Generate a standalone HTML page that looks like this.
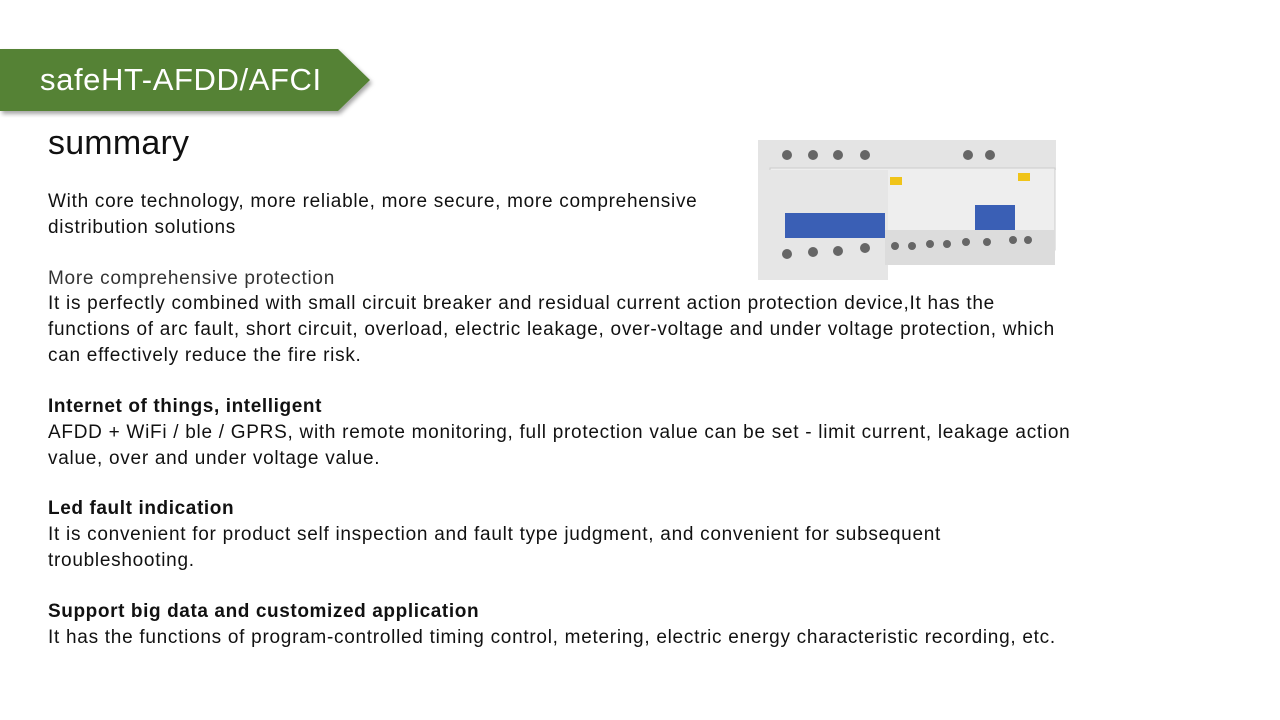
<!DOCTYPE html>
<html><head><style>
body{margin:0;width:1280px;height:720px;background:#fff;position:relative;overflow:hidden;font-family:"Liberation Sans",sans-serif;color:#111}
.t{position:absolute;left:48px;font-size:19px;line-height:26px;white-space:nowrap;letter-spacing:0.72px}
b{font-weight:bold;letter-spacing:0.6px}
</style></head><body>
<svg style="position:absolute;left:0;top:0" width="400" height="130">
<defs><filter id="s"><feDropShadow dx="2" dy="3" stdDeviation="2" flood-opacity="0.35"/></filter></defs>
<polygon points="0,49 338,49 370,80 338,111 0,111" fill="#548235" filter="url(#s)"/>
<text x="40" y="90" fill="#fff" font-size="31" letter-spacing="0.6" font-family="Liberation Sans,sans-serif">safeHT-AFDD/AFCI</text>
</svg>
<div class="t" style="top:123px;font-size:34px;line-height:40px;letter-spacing:0.2px">summary</div>
<div class="t" style="top:189px">With core technology, more reliable, more secure, more comprehensive<br>distribution solutions</div>
<div class="t" style="top:266px;color:#333">More comprehensive protection</div>
<div class="t" style="top:291px">It is perfectly combined with small circuit breaker and residual current action protection device,It has the<br>functions of arc fault, short circuit, overload, electric leakage, over-voltage and under voltage protection, which<br>can effectively reduce the fire risk.</div>
<div class="t" style="top:394px"><b>Internet of things, intelligent</b><br>AFDD + WiFi / ble / GPRS, with remote monitoring, full protection value can be set - limit current, leakage action<br>value, over and under voltage value.</div>
<div class="t" style="top:496px"><b>Led fault indication</b><br>It is convenient for product self inspection and fault type judgment, and convenient for subsequent<br>troubleshooting.</div>
<div class="t" style="top:599px"><b>Support big data and customized application</b><br>It has the functions of program-controlled timing control, metering, electric energy characteristic recording, etc.</div>
<svg style="position:absolute;left:750px;top:130px" width="310" height="160">
<rect x="8" y="10" width="298" height="30" fill="#e4e4e4"/>
<rect x="20" y="38" width="285" height="82" fill="#eeeeee" stroke="#ccc"/>
<rect x="8" y="40" width="130" height="110" fill="#e6e6e6"/>
<rect x="135" y="100" width="170" height="35" fill="#dcdcdc"/>
<g fill="#666"><circle cx="37" cy="25" r="5"/><circle cx="63" cy="25" r="5"/><circle cx="88" cy="25" r="5"/><circle cx="115" cy="25" r="5"/><circle cx="218" cy="25" r="5"/><circle cx="240" cy="25" r="5"/>
<circle cx="37" cy="124" r="5"/><circle cx="63" cy="122" r="5"/><circle cx="88" cy="121" r="5"/><circle cx="115" cy="118" r="5"/><circle cx="145" cy="116" r="4"/><circle cx="162" cy="116" r="4"/><circle cx="180" cy="114" r="4"/><circle cx="197" cy="114" r="4"/><circle cx="216" cy="112" r="4"/><circle cx="237" cy="112" r="4"/><circle cx="263" cy="110" r="4"/><circle cx="278" cy="110" r="4"/></g>
<rect x="140" y="47" width="12" height="8" fill="#f0c419"/><rect x="268" y="43" width="12" height="8" fill="#f0c419"/>
<rect x="35" y="83" width="100" height="25" fill="#3a5fb5"/>
<rect x="225" y="75" width="40" height="25" fill="#3a5fb5"/>
</svg>
</body></html>
